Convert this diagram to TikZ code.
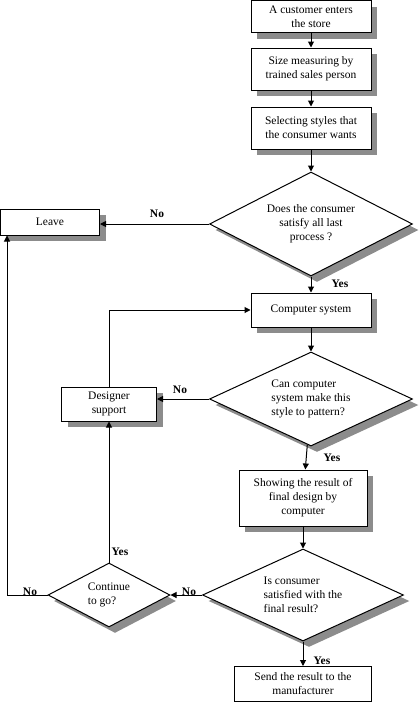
\documentclass[tikz,border=0pt]{standalone}
\usepackage{fontspec}
\setmainfont{Liberation Serif}
\usepackage{tikz}
\usetikzlibrary{shapes.geometric,shadows,arrows.meta}

\begin{document}
\begin{tikzpicture}[
        x=1pt, y=-1pt,                % pixel-like units, y going down
        font=\fontsize{11.5}{14}\selectfont,
        >={Triangle[length=6pt,width=6pt]},
        line width=1pt,
        shade/.style={drop shadow={shadow xshift=6pt, shadow yshift=-6pt,
            fill=black!45, opacity=1}},
        plainbox/.style={
            rectangle,
            draw,
            fill=white,
            align=center,
            inner sep=2pt
        },
        box/.style={plainbox, shade},
        decision/.style={
            diamond,
            draw,
            fill=white,
            aspect=2,
            inner sep=0pt,
            shade
        },
        lbl/.style={font=\fontsize{11.5}{14}\selectfont\bfseries},
        arrow/.style={->, line width=1pt}
    ]
        \useasboundingbox (0,0) rectangle (420,704);

        % 节点
        \node[box, minimum width=120, minimum height=32] (cust) at (311,16.5) {A customer enters\\the store};
        \node[box, minimum width=120, minimum height=42] (measure) at (311,69) {Size measuring by\\trained sales person};
        \node[box, minimum width=120, minimum height=42] (select) at (311,128) {Selecting styles that\\the consumer wants};
        \node[decision, minimum width=203, minimum height=104, align=center] (satisfy) at (311,224) {Does the consumer\\satisfy all last\\process ?};
        \node[box, minimum width=99, minimum height=26] (leave) at (50,222) {Leave};
        \node[box, minimum width=120, minimum height=34] (system) at (311,310) {Computer system};
        \node[decision, minimum width=203, minimum height=94, align=left] (pattern) at (311,399) {Can computer\\system make this\\style to pattern?};
        \node[box, minimum width=95, minimum height=34] (designer) at (109,404) {Designer\\support};
        \node[box, minimum width=128, minimum height=56] (showing) at (303,498) {Showing the result of\\final design by\\computer};
        \node[decision, minimum width=201, minimum height=92, align=left] (result) at (303,595) {Is consumer\\satisfied with the\\final result?};
        \node[decision, minimum width=122, minimum height=64, align=left] (cont) at (109,595) {Continue\\to go?};
        \node[plainbox, minimum width=137, minimum height=35] (send) at (303,684) {Send the result to the\\manufacturer};
        \coordinate (back) at (7,595);

        % 标签
        \node[lbl] (no1) at (157,214) {No};
        \node[lbl] (yes1) at (340,284) {Yes};
        \node[lbl] (no2) at (180,390) {No};
        \node[lbl] (yes2) at (332,458) {Yes};
        \node[lbl] (yes3) at (120,552) {Yes};
        \node[lbl] (no3) at (189,592) {No};
        \node[lbl] (no4) at (30,592) {No};
        \node[lbl] (yes4) at (322,661) {Yes};

        % 边
        \draw[arrow] (cust) -- (measure);
        \draw[arrow] (measure) -- (select);
        \draw[arrow] (select) -- (satisfy);
        \draw[arrow] (satisfy.west) -- (satisfy.west -| leave.east);
        \draw[arrow] (satisfy) -- (system);
        \draw[arrow] (system) -- (pattern);
        \draw[arrow] (pattern.west) -- (pattern.west -| designer.east);
        \draw[arrow] (designer.north) |- (system.west);
        \draw[arrow] (pattern) -- (showing);
        \draw[arrow] (showing) -- (result);
        \draw[arrow] (result) -- (send);
        \draw[arrow] (result.west) -- (cont.east);
        \draw[arrow] (cont.north) -- (designer.south);
        \draw[arrow] (cont.west) -- (back) -- (back |- leave.south);
    \end{tikzpicture}
\end{document}
